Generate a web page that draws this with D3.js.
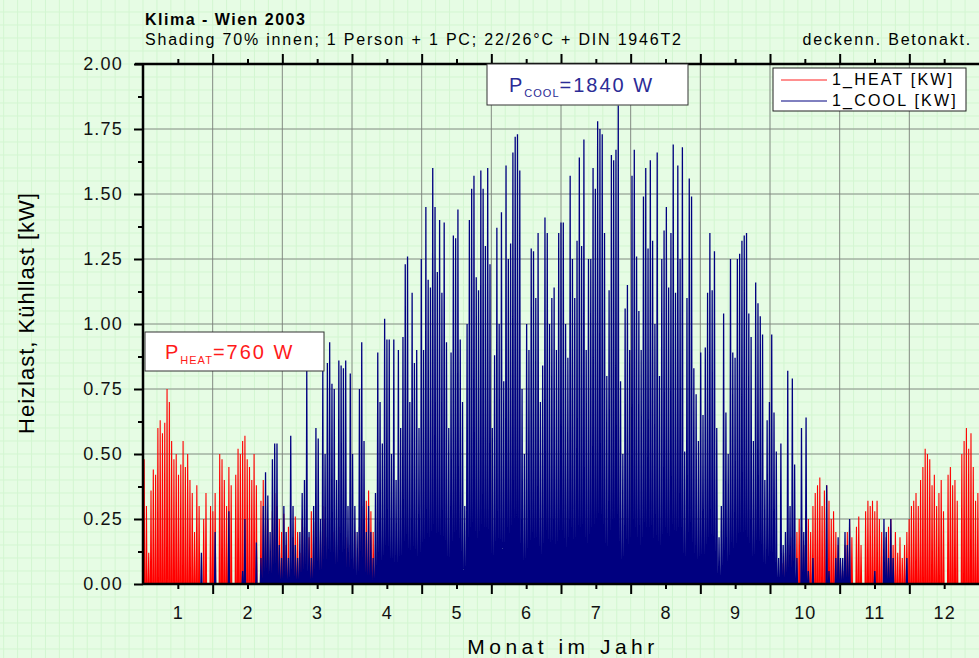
<html>
<head>
<style>
  body { margin: 0; background: #e6fce4; }
  text { font-family: "Liberation Sans", Arial, sans-serif; }
</style>
</head>
<body>
<svg id="chart" width="979" height="658"></svg>
<script src="https://d3js.org/d3.v7.min.js"></script>
<script>
// daily peak loads [kW], one value per day, by month
const heatJan = [0.48,0.30,0.12,0.36,0.44,0.42,0.60,0.63,0.58,0.62,0.75,0.70,0.55,0.48,0.50,0.42,0.46,0.55,0.45,0.50,0.40,0.35,0.20,0.38,0.30,0.0,0.25,0.35,0.0,0.30,0.28]
const heatFeb = [0.35,0.0,0.50,0.48,0.40,0.30,0.45,0.38,0.0,0.42,0.52,0.50,0.55,0.57,0.48,0.45,0.40,0.50,0.38,0.0,0.32,0.40,0.30,0.25,0.0,0.28,0.35,0.30]
const heatMar = [0.25,0.20,0.27,0.15,0.22,0.0,0.18,0.26,0.20,0.12,0.25,0.22,0.0,0.18,0.28,0.24,0.15,0.10,0.20,0.30,0.25,0.18,0.0,0.12,0.20,0.15,0.22,0.10,0.0,0.18,0.12]
const heatApr = [0.15,0.10,0.20,0.0,0.22,0.30,0.25,0.32,0.36,0.28,0.20,0.15,0.08,0.12,0.05,0,0,0,0,0,0,0,0,0,0,0,0,0,0,0]
const heatMay = new Array(31).fill(0)
const heatJun = new Array(30).fill(0)
const heatJul = new Array(31).fill(0)
const heatAug = new Array(31).fill(0)
const heatSep = new Array(30).fill(0)
const heatOct = [0,0,0,0,0,0,0.08,0.12,0.15,0.05,0.18,0.0,0.20,0.25,0.22,0.15,0.28,0.25,0.20,0.30,0.35,0.38,0.41,0.30,0.36,0.38,0.32,0.25,0.28,0.20,0.15]
const heatNov = [0.10,0.05,0.15,0.20,0.25,0.18,0.0,0.22,0.26,0.15,0.0,0.28,0.32,0.30,0.32,0.28,0.32,0.25,0.20,0.0,0.18,0.22,0.25,0.15,0.20,0.12,0.18,0.10,0.15,0.20]
const heatDec = [0.25,0.30,0.32,0.35,0.30,0.40,0.45,0.52,0.50,0.48,0.38,0.42,0.30,0.35,0.40,0.28,0.0,0.42,0.45,0.38,0.40,0.32,0.0,0.50,0.55,0.60,0.52,0.58,0.45,0.32,0.35]

const coolJan = [0,0,0,0,0,0,0,0,0,0,0,0,0,0,0,0,0,0,0,0,0,0,0,0,0,0.12,0,0,0,0,0]
const coolFeb = [0.2,0,0,0,0,0,0.28,0,0,0,0,0,0.05,0.25,0,0,0,0,0.16,0,0.1,0.3,0.43,0.34,0.2,0.48,0.54,0.54]
const coolMar = [0.15,0.1,0.3,0.2,0.1,0.57,0.3,0.15,0.1,0.2,0.35,0.4,0.82,0.2,0.1,0.3,0.6,0.56,0.25,0.82,0.5,0.85,0.93,0.77,0.75,0.4,0.86,0.84,0.83,0.86,0.3]
const coolApr = [0.81,0.5,0.3,0.2,0.75,0.93,0.55,0.2,0.3,0.2,0.1,0.35,0.89,0.7,0.54,1.02,0.94,0.94,0.5,0.94,0.4,0.9,0.6,0.95,1.23,1.26,0.7,1.12,0.85,0.9]
const coolMay = [0.6,1.25,0.9,1.45,1.17,1.14,1.6,1.45,1.2,1.4,1.12,1.39,0.93,0.6,0.89,1.34,1.33,1.44,0.94,0.7,0.3,1.0,1.4,1.52,1.57,1.18,1.13,1.59,1.52,1.3,1.6]
const coolJun = [1.23,0.6,0.88,1.37,1.0,1.43,0.78,1.61,1.25,1.31,1.66,1.72,1.73,1.59,0.75,0.5,1.0,0.9,1.29,1.28,1.1,1.35,0.7,0.84,1.41,1.35,1.0,1.1,1.14,0.9]
const coolJul = [1.35,1.39,1.39,1.0,0.87,1.57,1.25,1.1,1.32,1.64,1.3,1.71,0.9,1.25,1.25,1.6,1.52,1.78,1.75,1.73,1.35,0.8,1.13,1.65,1.63,1.67,1.84,0.78,0.5,1.06,1.15]
const coolAug = [0.9,1.57,1.67,1.26,1.05,0.9,1.49,1.6,1.29,1.63,1.32,1.0,1.66,0.8,1.25,1.36,1.45,1.14,1.35,1.69,1.12,1.61,1.25,1.68,0.51,1.1,1.56,1.49,0.83,0.73,0.55]
const coolSep = [0.89,0.65,0.91,1.12,1.35,1.13,1.28,0.6,0.18,0.3,1.04,0.66,0.5,1.25,0.89,0.87,1.25,1.27,1.32,1.34,1.35,1.04,0.95,0.55,1.16,1.08,1.03,0.96,0.4,0.63]
const coolOct = [0.7,0.96,0.66,0.51,0.1,0.54,0.15,0.2,0.82,0.3,0.79,0.46,0.1,0,0.6,0.2,0.64,0.05,0,0.1,0,0,0,0,0,0.38,0.05,0,0,0.1,0.18]
const coolNov = [0.1,0.1,0.2,0.15,0.25,0,0,0,0,0,0,0,0,0,0,0.05,0,0,0,0.25,0.2,0.1,0.25,0.1,0,0,0,0,0,0.1]
const coolDec = new Array(31).fill(0)

const monthTicks = [1,2,3,4,5,6,7,8,9,10,11,12]
const monthBounds = [1.5,2.5,3.5,4.5,5.5,6.5,7.5,8.5,9.5,10.5,11.5]
const yTicks = [0,0.25,0.5,0.75,1.0,1.25,1.5,1.75,2.0]
const yMinor = [0.125,0.375,0.625,0.875,1.125,1.375,1.625,1.875]

const heat = [].concat(heatJan,heatFeb,heatMar,heatApr,heatMay,heatJun,heatJul,heatAug,heatSep,heatOct,heatNov,heatDec)
const cool = [].concat(coolJan,coolFeb,coolMar,coolApr,coolMay,coolJun,coolJul,coolAug,coolSep,coolOct,coolNov,coolDec)

let svg = d3.select("#chart")
let W = 979, H = 658
let x = d3.scaleLinear().domain([0.5, 12.5]).range([143, 979])
let y = d3.scaleLinear().domain([0, 2]).range([584, 64])
let dayToMonth = d => 0.5 + d * 12 / 365

// graph paper background
let paper = svg.append("g").attr("stroke", "#d3f6d1").attr("stroke-width", 1)
let stepX = (x(1) - x(0.8)), stepY = y(0) - y(0.05)
for (let px = x(0.5) % stepX; px < W; px += stepX)
    paper.append("line").attr("x1", px).attr("x2", px).attr("y1", 0).attr("y2", H)
for (let py = y(0) % stepY; py < H; py += stepY)
    paper.append("line").attr("y1", py).attr("y2", py).attr("x1", 0).attr("x2", W)

// main grid
let grid = svg.append("g").attr("stroke", "#7a7a7a").attr("stroke-opacity", 0.85)
grid.selectAll(".gv").data(monthBounds).enter().append("line")
    .attr("x1", d => x(d)).attr("x2", d => x(d)).attr("y1", y(2)).attr("y2", y(0))
grid.selectAll(".gh").data(yTicks.slice(1, -1)).enter().append("line")
    .attr("x1", x(0.5)).attr("x2", W).attr("y1", d => y(d)).attr("y2", d => y(d))

// spikes: each day rises to its peak and falls back to zero
function spikes(vals) {
    let pts = []
    vals.forEach((v, d) => {
        pts.push([dayToMonth(d + 0.25), 0])
        pts.push([dayToMonth(d + 0.5), v])
        pts.push([dayToMonth(d + 0.75), 0])
    })
    return d3.line().x(p => x(p[0])).y(p => y(p[1]))(pts)
}
let plot = svg.append("g")
plot.append("path").attr("d", spikes(heat)).attr("fill", "none")
    .attr("stroke", "#ff0000").attr("stroke-width", 1.1)
plot.append("path").attr("d", spikes(cool)).attr("fill", "none")
    .attr("stroke", "#000080").attr("stroke-width", 1.3)

// axes
let axes = svg.append("g")
axes.append("g").attr("transform", "translate(0,584)")
    .call(d3.axisBottom(x).tickValues(monthBounds).tickSize(10).tickFormat(""))
axes.append("g").attr("transform", "translate(0,584)")
    .call(d3.axisBottom(x).tickValues(monthTicks).tickSize(5).tickPadding(17).tickFormat(d3.format("d")))
axes.append("g").attr("transform", "translate(0,64)")
    .call(d3.axisTop(x).tickValues(monthBounds).tickSize(10).tickFormat(""))
axes.append("g").attr("transform", "translate(0,64)")
    .call(d3.axisTop(x).tickValues(monthTicks).tickSize(5).tickFormat(""))
axes.append("g").attr("transform", "translate(143,0)")
    .call(d3.axisLeft(y).tickValues(yTicks).tickSize(9).tickPadding(11).tickFormat(d3.format(".2f")))
axes.append("g").attr("transform", "translate(143,0)")
    .call(d3.axisLeft(y).tickValues(yMinor).tickSize(5).tickFormat(""))
axes.selectAll(".domain").remove()
axes.selectAll(".tick line").attr("stroke", "#000").attr("stroke-width", 2)
axes.selectAll(".tick text").attr("font-size", 18).attr("fill", "#111")
    .attr("font-family", "Liberation Sans, Arial").attr("letter-spacing", 1.2)
axes.append("line").attr("x1", 143).attr("x2", W).attr("y1", 584).attr("y2", 584).attr("stroke", "#000").attr("stroke-width", 2.5)
axes.append("line").attr("x1", 135).attr("x2", W).attr("y1", 64).attr("y2", 64).attr("stroke", "#000").attr("stroke-width", 2.5)
axes.append("line").attr("x1", 143).attr("x2", 143).attr("y1", 64).attr("y2", 584).attr("stroke", "#000").attr("stroke-width", 2.5)

// titles
svg.append("text").attr("x", 145).attr("y", 25).attr("font-size", 16).attr("font-weight", "bold")
    .attr("letter-spacing", 1.5).text("Klima - Wien 2003")
svg.append("text").attr("x", 145).attr("y", 45).attr("font-size", 16).attr("letter-spacing", 1.8)
    .text("Shading 70% innen; 1 Person + 1 PC; 22/26°C + DIN 1946T2")
svg.append("text").attr("x", 972).attr("y", 45).attr("font-size", 16).attr("letter-spacing", 1.8)
    .attr("text-anchor", "end").text("deckenn. Betonakt.")
svg.append("text").attr("transform", "translate(34,313) rotate(-90)").attr("text-anchor", "middle")
    .attr("font-size", 22).attr("letter-spacing", 1).text("Heizlast, Kühllast [kW]")
svg.append("text").attr("x", 563).attr("y", 654).attr("text-anchor", "middle")
    .attr("font-size", 21).attr("letter-spacing", 4.5).text("Monat im Jahr")

// peak annotations
function peakBox(bx, by, bw, bh, sub, rest, color, tx) {
    svg.append("rect").attr("x", bx).attr("y", by).attr("width", bw).attr("height", bh)
        .attr("fill", "#fff").attr("stroke", "#333").attr("stroke-width", 1)
    let t = svg.append("text").attr("x", tx).attr("y", by + bh / 2 + 7).attr("fill", color)
        .attr("font-size", 20).attr("letter-spacing", 2)
    t.append("tspan").text("P")
    t.append("tspan").attr("font-size", 11).attr("letter-spacing", 1).attr("dy", 5).text(sub)
    t.append("tspan").attr("dy", -5).text(rest)
}
peakBox(487, 64, 201, 41, "COOL", "=1840 W", "#2b2b96", 509)
peakBox(145, 332, 179, 39, "HEAT", "=760 W", "#ff1a1a", 165)

// legend
let leg = svg.append("g")
leg.append("rect").attr("x", 773).attr("y", 68).attr("width", 193).attr("height", 43)
    .attr("fill", "#fff").attr("stroke", "#222").attr("stroke-width", 1)
let items = [["1_HEAT [KW]", "#ff2020"], ["1_COOL [KW]", "#000080"]]
items.forEach((it, i) => {
    let ly = 80 + i * 21
    leg.append("line").attr("x1", 781).attr("x2", 827).attr("y1", ly).attr("y2", ly)
        .attr("stroke", it[1]).attr("stroke-width", 1)
    leg.append("text").attr("x", 832).attr("y", ly + 5).attr("font-size", 16)
        .attr("letter-spacing", 2.2).text(it[0])
})
</script>
</body>
</html>
